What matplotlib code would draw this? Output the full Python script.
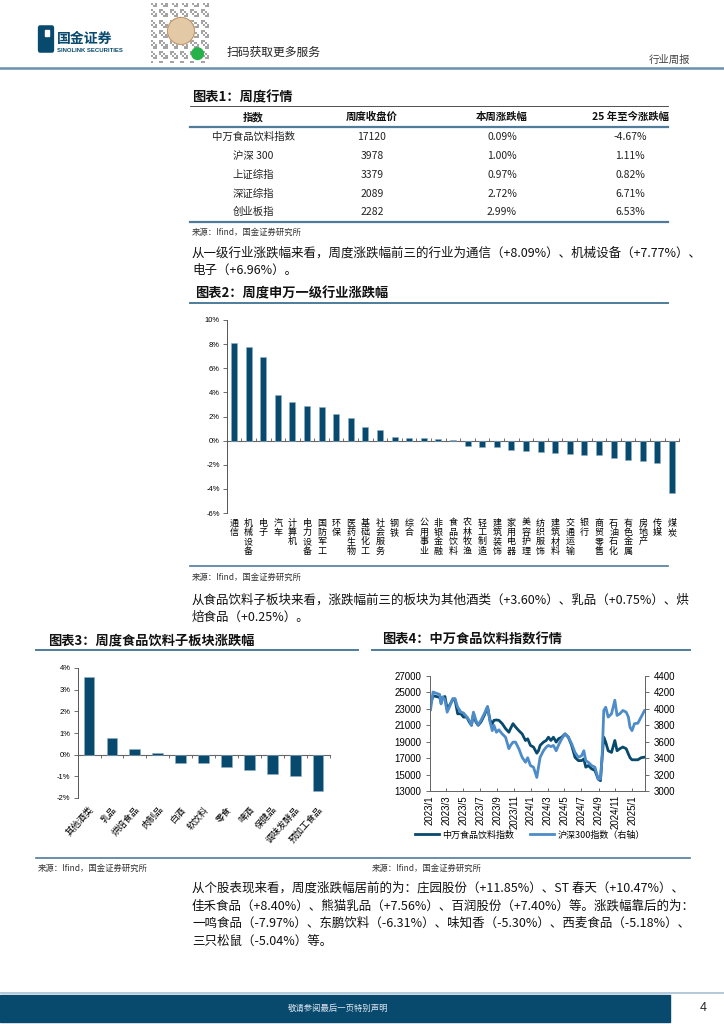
import matplotlib
matplotlib.use('Agg')
import matplotlib.pyplot as plt
import matplotlib.dates as mdates
from matplotlib.lines import Line2D
from matplotlib.patches import Rectangle, FancyBboxPatch, Circle
import numpy as np
import pandas as pd

plt.rcParams['font.family'] = ['Noto Sans CJK SC', 'DejaVu Sans']
plt.rcParams['axes.unicode_minus'] = False

DARK = '#08496e'
LIGHT = '#4d8cc8'
RULE = '#4f7c9c'
NUM_FONT = ['Liberation Sans', 'DejaVu Sans']

# ---- table 1 data
tbl_header = ['指数', '周度收盘价', '本周涨跌幅', '25 年至今涨跌幅']
tbl_names = ['中万食品饮料指数', '沪深 300', '上证综指', '深证综指', '创业板指']
tbl_close = ['17120', '3978', '3379', '2089', '2282']
tbl_week = ['0.09%', '1.00%', '0.97%', '2.72%', '2.99%']
tbl_ytd = ['-4.67%', '1.11%', '0.82%', '6.71%', '6.53%']

# ---- chart 2 data (申万一级行业周涨跌幅, %)
ind_names = ['通信', '机械设备', '电子', '汽车', '计算机', '电力设备', '国防军工', '环保',
             '医药生物', '基础化工', '社会服务', '钢铁', '综合', '公用事业', '非银金融',
             '食品饮料', '农林牧渔', '轻工制造', '建筑装饰', '家用电器', '美容护理',
             '纺织服饰', '建筑材料', '交通运输', '银行', '商贸零售', '石油石化',
             '有色金属', '房地产', '传媒', '煤炭']
ind_values = [8.09, 7.77, 6.96, 3.77, 3.24, 2.90, 2.79, 2.23, 1.87, 1.17, 0.87, 0.34,
              0.25, 0.20, 0.10, 0.09, -0.47, -0.50, -0.50, -0.78, -0.90, -0.98, -1.06,
              -1.13, -1.19, -1.19, -1.48, -1.59, -1.65, -1.87, -4.33]

# ---- chart 3 data (食品饮料子板块, %)
sub_names = ['其他酒类', '乳品', '烘焙食品', '肉制品', '白酒', '软饮料', '零食', '啤酒',
             '保健品', '调味发酵品', '预加工食品']
sub_values = [3.60, 0.75, 0.25, 0.10, -0.40, -0.40, -0.57, -0.71, -0.91, -0.98, -1.69]

# ---- chart 4 data
idx_dates = ['2023-01-03', '2023-01-12', '2023-01-24', '2023-02-05', '2023-02-10', '2023-02-16',
             '2023-02-24', '2023-03-04', '2023-03-12', '2023-03-24', '2023-04-01', '2023-04-11',
             '2023-04-23', '2023-05-02', '2023-05-14', '2023-05-23', '2023-05-31', '2023-06-07',
             '2023-06-16', '2023-06-24', '2023-07-04', '2023-07-16', '2023-07-28', '2023-08-06',
             '2023-08-14', '2023-08-20', '2023-08-29', '2023-09-07', '2023-09-19', '2023-10-01',
             '2023-10-13', '2023-10-19', '2023-10-28', '2023-11-06', '2023-11-18', '2023-11-30',
             '2023-12-12', '2023-12-20', '2023-12-30', '2024-01-10', '2024-01-22', '2024-01-28',
             '2024-02-03', '2024-02-15', '2024-02-25', '2024-03-04', '2024-03-13', '2024-03-22',
             '2024-04-01', '2024-04-09', '2024-04-21', '2024-05-03', '2024-05-15', '2024-05-27',
             '2024-06-08', '2024-06-20', '2024-07-02', '2024-07-10', '2024-07-17', '2024-07-26',
             '2024-08-07', '2024-08-19', '2024-08-31', '2024-09-08', '2024-09-14', '2024-09-20',
             '2024-09-27', '2024-10-06', '2024-10-18', '2024-10-30', '2024-11-07', '2024-11-17',
             '2024-11-28', '2024-12-10', '2024-12-18', '2024-12-24', '2024-12-31', '2025-01-09',
             '2025-01-21', '2025-02-02', '2025-02-14']
food_idx = [23600, 24600, 24500, 24400, 23800, 24400, 24500, 23000, 23400, 24100,
            24200, 22400, 22400, 22000, 22000, 21400, 21000, 22400, 21400, 21000,
            21400, 22200, 23200, 21600, 21200, 21600, 21650, 21600, 21200, 20600,
            20150, 20600, 21200, 20800, 20350, 19950, 19150, 19350, 18550, 18350,
            17600, 17900, 18550, 18950, 19150, 19550, 19150, 19550, 18950, 19350,
            19550, 19950, 19550, 18550, 17100, 16700, 16700, 16900, 15900, 16100,
            15700, 15500, 14450, 14250, 17100, 19550, 18950, 17900, 17700, 19150,
            17900, 18150, 18350, 18150, 17500, 17050, 16800, 16800, 16800, 17050,
            17120]
hs300_idx = [3990, 4205, 4190, 4175, 4060, 4145, 4110, 3960, 4020, 4125,
             4125, 4020, 3960, 3950, 3900, 3860, 3800, 3960, 3860, 3805,
             3860, 3940, 4030, 3840, 3735, 3800, 3715, 3745, 3695, 3655,
             3515, 3555, 3595, 3595, 3515, 3410, 3350, 3405, 3310, 3290,
             3165, 3290, 3410, 3490, 3535, 3555, 3540, 3555, 3490, 3555,
             3635, 3695, 3655, 3575, 3470, 3410, 3430, 3490, 3370, 3350,
             3310, 3290, 3145, 3145, 3410, 3980, 4020, 3900, 3940, 4105,
             3920, 3940, 3980, 3960, 3900, 3775, 3735, 3820, 3825, 3900,
             3978]

para1 = ['从一级行业涨跌幅来看，周度涨跌幅前三的行业为通信（+8.09%）、机械设备（+7.77%）、',
         '电子（+6.96%）。']
para2 = ['从食品饮料子板块来看，涨跌幅前三的板块为其他酒类（+3.60%）、乳品（+0.75%）、烘',
         '焙食品（+0.25%）。']
para3 = ['从个股表现来看，周度涨跌幅居前的为：庄园股份（+11.85%）、ST 春天（+10.47%）、',
         '佳禾食品（+8.40%）、熊猫乳品（+7.56%）、百润股份（+7.40%）等。涨跌幅靠后的为：',
         '一鸣食品（-7.97%）、东鹏饮料（-6.31%）、味知香（-5.30%）、西麦食品（-5.18%）、',
         '三只松鼠（-5.04%）等。']
source = '来源：Ifind，国金证券研究所'

W, H = 724, 1024
fig = plt.figure(figsize=(W / 100, H / 100), dpi=100)


def fx(x):
    return x / W


def fy(y):
    return 1 - y / H


def hline(x0, x1, y, color=RULE, lw=1.2):
    fig.add_artist(Line2D([fx(x0), fx(x1)], [fy(y), fy(y)], transform=fig.transFigure,
                          color=color, lw=lw))


def text(x, y, s, **kw):
    kw.setdefault('va', 'center')
    kw.setdefault('fontsize', 9)
    kw.setdefault('color', '#111111')
    fig.text(fx(x), fy(y), s, **kw)


def axes_px(x0, y0, x1, y1):
    return fig.add_axes([fx(x0), fy(y1), (x1 - x0) / W, (y1 - y0) / H])


# ---------------- header
fig.add_artist(FancyBboxPatch((fx(40), fy(50)), fx(12), 22 / H, boxstyle='round,pad=0.002',
                              transform=fig.transFigure, color=DARK))
fig.add_artist(Rectangle((fx(45), fy(36)), fx(4), 6 / H, transform=fig.transFigure,
                         color='white'))
text(57, 39, '国金证券', fontsize=10, fontweight='bold', color=DARK)
text(57, 51, 'SINOLINK SECURITIES', fontsize=4.3, fontweight='bold', color=DARK,
     family=NUM_FONT)

qr = fig.add_axes([fx(150), fy(63), 62 / W, 60 / H])
ii, jj = np.indices((29, 29))
pattern = ((ii * 7 + jj * 13 + ii * jj) % 5 < 2).astype(float)
qr.imshow(pattern, cmap='Greys', vmin=0, vmax=2.2, interpolation='nearest')
qr.add_patch(Circle((14, 13), 6.5, color='#e4c9a6'))
qr.add_patch(Circle((14, 13), 6.5, fill=False, color='#b98d63', lw=0.6))
qr.add_patch(Circle((22, 24), 2.8, color='#27b14a'))
qr.axis('off')
text(227, 52, '扫码获取更多服务', fontsize=8.5, color='#222222')
text(690, 60, '行业周报', fontsize=7.5, color='#444444', ha='right')
hline(0, 724, 68, color='#6b90ab', lw=1.8)

# ---------------- table 1
text(192, 97, '图表1：周度行情', fontsize=9.5, fontweight='bold')
hline(190, 668, 106, color='#333333', lw=0.6)
col_x = [253, 372, 502, 630]
for cx, h in zip(col_x, tbl_header):
    text(cx, 117, h, fontsize=7.5, fontweight='bold', ha='center')
hline(190, 668, 127, color=RULE, lw=1.6)
row_y = [137, 156, 175, 194, 212]
for ry, a, b, c, d in zip(row_y, tbl_names, tbl_close, tbl_week, tbl_ytd):
    text(col_x[0], ry, a, fontsize=7.5, ha='center', color='#222222')
    text(col_x[1], ry, b, fontsize=7.5, ha='center', color='#222222')
    text(col_x[2], ry, c, fontsize=7.5, ha='center', color='#222222')
    text(col_x[3], ry, d, fontsize=7.5, ha='center', color='#222222')
hline(190, 668, 222, color=RULE, lw=1.6)
text(192, 232, source, fontsize=6, color='#333333')

for k, line in enumerate(para1):
    text(192, 253 + 17 * k, line, fontsize=9)

# ---------------- chart 2
text(195, 293, '图表2：周度申万一级行业涨跌幅', fontsize=9.5, fontweight='bold')
hline(190, 668, 303, color=RULE, lw=1.4)

ax2 = axes_px(226.7, 320, 679.3, 513)
x2 = np.arange(len(ind_values))
ax2.bar(x2, ind_values, width=0.42, color=DARK, edgecolor='#8fb0c6', linewidth=0.4)
ax2.set_xlim(-0.5, len(ind_values) - 0.5)
ax2.set_ylim(-6, 10)
ax2.set_yticks(np.arange(-6, 11, 2))
ax2.set_yticklabels([f'{v}%' for v in range(-6, 11, 2)], fontsize=5.5, family=NUM_FONT)
ax2.set_xticks(x2)
ax2.set_xticklabels(['\n'.join(n) for n in ind_names], fontsize=6.5, linespacing=1.05)
ax2.tick_params(axis='x', length=0, pad=4)
ax2.tick_params(axis='y', length=3, width=0.6, color='#555555', pad=2)
for s in ['top', 'right', 'bottom']:
    ax2.spines[s].set_visible(False)
ax2.spines['left'].set_color('#555555')
ax2.spines['left'].set_linewidth(0.7)
zero2 = ax2.secondary_xaxis(6 / 16)
zero2.set_xticks(np.arange(len(ind_values) + 1) - 0.5)
zero2.tick_params(length=2.5, width=0.6, direction='in', color='#555555', labelbottom=False)
zero2.spines['bottom'].set_color('#666666')
zero2.spines['bottom'].set_linewidth(0.8)

hline(190, 668, 566, color=RULE, lw=1.2)
text(192, 577, source, fontsize=6, color='#333333')
for k, line in enumerate(para2):
    text(192, 600 + 17 * k, line, fontsize=9)

# ---------------- chart 3
text(48, 640, '图表3：周度食品饮料子板块涨跌幅', fontsize=9.5, fontweight='bold')
hline(36, 358, 650, color=RULE, lw=1.4)
ax3 = axes_px(77.6, 668, 329.5, 798)
x3 = np.arange(len(sub_values))
ax3.bar(x3, sub_values, width=0.47, color=DARK, edgecolor='#8fb0c6', linewidth=0.4)
ax3.set_xlim(-0.5, len(sub_values) - 0.5)
ax3.set_ylim(-2, 4)
ax3.set_yticks(np.arange(-2, 5, 1))
ax3.set_yticklabels([f'{v}%' for v in range(-2, 5)], fontsize=5.5, family=NUM_FONT)
ax3.set_xticks(x3)
ax3.set_xticklabels(sub_names, fontsize=6.5, rotation=48, ha='right', rotation_mode='anchor')
ax3.tick_params(axis='x', length=0, pad=5)
ax3.tick_params(axis='y', length=3, width=0.6, color='#555555', pad=2)
for s in ['top', 'right', 'bottom']:
    ax3.spines[s].set_visible(False)
ax3.spines['left'].set_color('#555555')
ax3.spines['left'].set_linewidth(0.7)
zero3 = ax3.secondary_xaxis(2 / 6)
zero3.set_xticks(np.arange(len(sub_values) + 1) - 0.5)
zero3.tick_params(length=2.5, width=0.6, direction='out', color='#555555', labelbottom=False)
zero3.spines['bottom'].set_color('#666666')
zero3.spines['bottom'].set_linewidth(0.8)

# ---------------- chart 4
text(382, 640, '图表4：中万食品饮料指数行情', fontsize=9.5, fontweight='bold')
hline(372, 690, 650, color=RULE, lw=1.4)
dates = pd.to_datetime(idx_dates)
ax4 = axes_px(430, 676, 645, 791)
l1, = ax4.plot(dates, food_idx, color=DARK, lw=2.0, label='中万食品饮料指数')
ax4r = ax4.twinx()
l2, = ax4r.plot(dates, hs300_idx, color=LIGHT, lw=2.0, label='沪深300指数（右轴）')
ax4.set_xlim(pd.Timestamp('2023-01-01'), pd.Timestamp('2025-02-16'))
ax4.set_ylim(13000, 27000)
ax4.set_yticks(np.arange(13000, 27001, 2000))
ax4r.set_ylim(3000, 4400)
ax4r.set_yticks(np.arange(3000, 4401, 200))
ax4.xaxis.set_major_locator(mdates.MonthLocator(bymonth=[1, 3, 5, 7, 9, 11]))
ax4.xaxis.set_major_formatter(mdates.DateFormatter('%Y/%-m'))
for lab in ax4.get_yticklabels() + ax4r.get_yticklabels():
    lab.set_family(NUM_FONT)
    lab.set_fontsize(7)
ax4.tick_params(axis='x', labelrotation=90, labelsize=7, length=2.5, width=0.6,
                direction='in', color='#555555', pad=3)
for lab in ax4.get_xticklabels():
    lab.set_family(NUM_FONT)
ax4.tick_params(axis='y', length=3, width=0.6, color='#555555', pad=3)
ax4r.tick_params(axis='y', length=3, width=0.6, color='#555555', pad=3)
ax4.spines['top'].set_visible(False)
ax4r.spines['top'].set_visible(False)
for a in (ax4, ax4r):
    for s in ['left', 'right', 'bottom']:
        a.spines[s].set_color('#666666')
        a.spines[s].set_linewidth(0.7)
fig.legend(handles=[l1, l2], loc='center', bbox_to_anchor=(fx(530), fy(835)), ncol=2,
           frameon=False, fontsize=6.5, handlelength=2.6, columnspacing=1.8,
           handletextpad=0.4)

# ---------------- bottom block
hline(36, 690, 858, color=RULE, lw=1.2)
text(38, 868, source, fontsize=6, color='#333333')
text(372, 868, source, fontsize=6, color='#333333')
for k, line in enumerate(para3):
    text(192, 888 + 17.7 * k, line, fontsize=9)

# ---------------- footer
hline(0, 724, 993, color='#a8c0d2', lw=1.2)
fig.add_artist(Rectangle((0, fy(1022)), fx(670), 27 / H, transform=fig.transFigure,
                         color=DARK))
text(338, 1008, '敬请参阅最后一页特别声明', fontsize=6, color='#dde6ee', ha='center')
text(703, 1008, '4', fontsize=9, color='#222222', ha='center', family=NUM_FONT)

fig.savefig('out.png', dpi=100)
